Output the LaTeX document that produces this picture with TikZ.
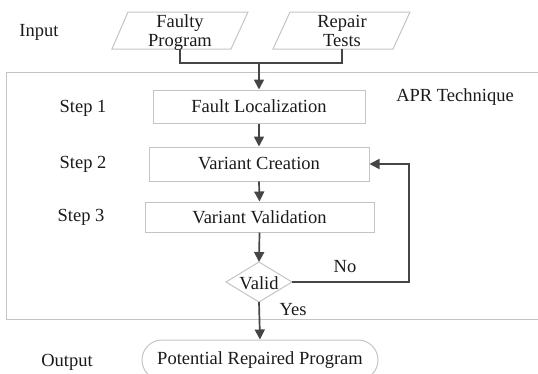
\documentclass[tikz,border=0pt]{standalone}
\usepackage{fontspec}
\setmainfont{Liberation Serif}
\usetikzlibrary{arrows.meta}
\definecolor{boxgray}{HTML}{C4C4C4}
\definecolor{arrowgray}{HTML}{454545}
\definecolor{txt}{HTML}{1A1A1A}
\begin{document}
\begin{tikzpicture}[x=1pt,y=-1pt,
  every node/.style={font=\fontsize{18.5}{19}\selectfont, text=txt},
  boxline/.style={draw=boxgray, line width=1pt},
  stepbox/.style={boxline, rectangle, inner sep=0pt},
  lbl/.style={inner sep=0pt},
  twoline/.style={lbl, align=center, text height=32pt, text depth=5pt},
  arr/.style={draw=arrowgray, line width=1.7pt, -{Triangle[length=10pt,width=10pt]}},
  ln/.style={draw=arrowgray, line width=1.7pt}]
\clip (0,0) rectangle (538,373);
\useasboundingbox (0,0) rectangle (538,373);
% frame
\draw[boxline] (6,72) rectangle (560,319);
% inputs
\draw[boxline] (128,12) -- (248,12) -- (231,49) -- (112,49) -- cycle;
\node[twoline] (fp) at (180,32.5) {Faulty\\Program};
\draw[boxline] (290,12) -- (410,12) -- (393,49) -- (273,49) -- cycle;
\node[twoline] (rt) at (342,32.5) {Repair\\Tests};
\coordinate (fpB) at (180,49);
\coordinate (rtB) at (342,49);
\coordinate (join) at (259,63);
% steps
\node[stepbox, minimum width=212pt, minimum height=33pt] (fl) at (259,106.5) {Fault Localization};
\node[stepbox, minimum width=220pt, minimum height=34pt] (vc) at (259,164) {Variant Creation};
\node[stepbox, minimum width=229pt, minimum height=30pt] (vv) at (259.5,217) {Variant Validation};
% diamond
\draw[boxline] (226,282) -- (259,262) -- (292,282) -- (259,302) -- cycle;
\node[lbl] (valid) at (259,283) {Valid};
\coordinate (vdT) at (259,262);
\coordinate (vdB) at (259,302);
\coordinate (vdR) at (292,282);
\coordinate (fbC) at (409,282);
% output
\node[boxline, rectangle, rounded corners=20pt, minimum width=236pt, minimum height=40pt, inner sep=0pt] (out) at (260,360) {Potential Repaired Program};
% labels
\node[lbl] (in) at (39,32) {Input};
\node[lbl] (s1) at (83,108) {Step 1};
\node[lbl] (s2) at (83,164) {Step 2};
\node[lbl] (s3) at (81,217) {Step 3};
\node[lbl] (op) at (67,362) {Output};
\node[lbl] (apr) at (455,97) {APR Technique};
\node[lbl] (no) at (345,267) {No};
\node[lbl] (yes) at (293,310) {Yes};
% connectors
\draw[ln] (fpB) |- (join) -| (rtB);
\draw[arr] (join) -- (fl.north);
\draw[arr] (fl.south) -- (vc.north);
\draw[arr] (vc.south) -- (vv.north);
\draw[arr] (vv.south) -- (vdT);
\draw[arr] (vdR) -- (fbC) |- (vc.east);
\draw[arr] (vdB) -- (out.north);
\end{tikzpicture}
\end{document}
